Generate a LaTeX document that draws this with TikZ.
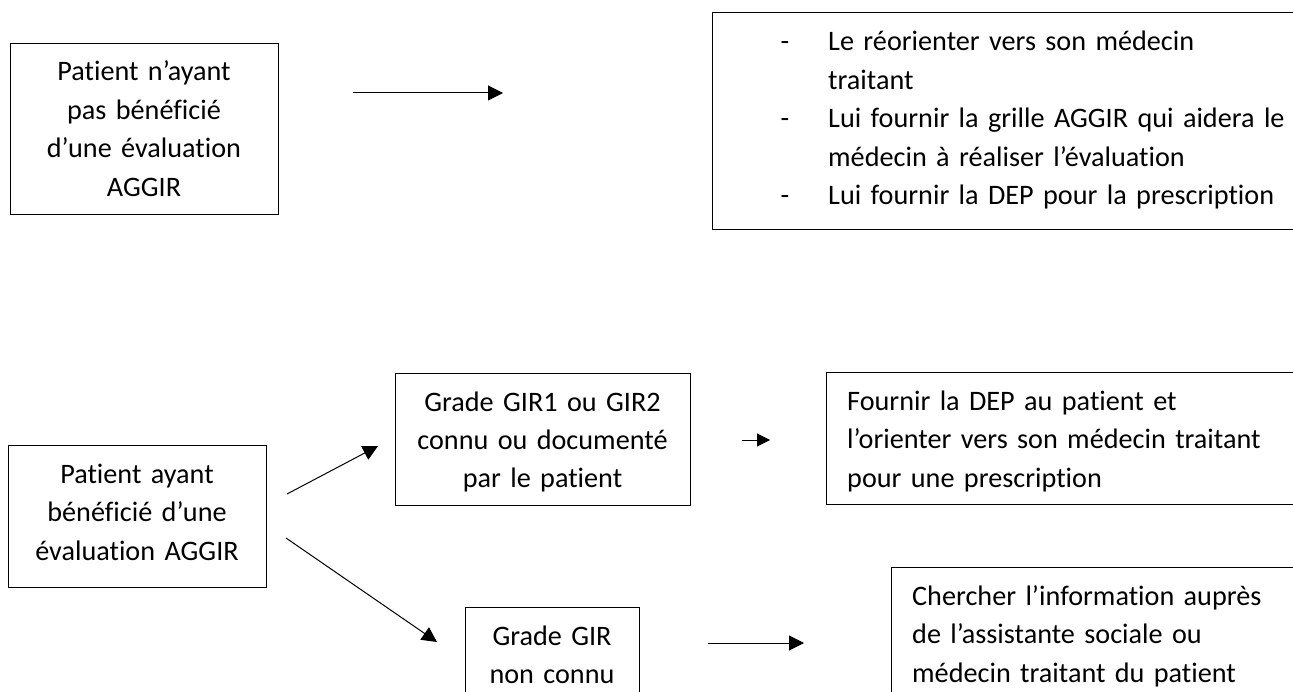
\documentclass[tikz,border=0pt]{standalone}
\usepackage{fontspec}
\setmainfont{Carlito}[Ligatures={NoCommon}]
\usetikzlibrary{arrows.meta}
\newcommand{\dashitem}{\leavevmode\llap{-\hspace{39pt}}}
\newcommand{\boxfont}{\fontsize{28.2}{38.5}\selectfont}
\begin{document}
\begin{tikzpicture}[x=1pt,y=-1pt,
  box/.style={draw=black, line width=1.1pt, anchor=north west, inner sep=0pt},
  txt/.style={font=\boxfont, inner sep=0pt},
  ctxt/.style={txt, align=center, anchor=base},
  ltxt/.style={txt, align=left, anchor=base west},
  arr/.style={line width=1pt, -{Triangle[length=15pt,width=15pt]}}]
\useasboundingbox (0,0) rectangle (1293,692);
\clip (0,0) rectangle (1293,692);
\fill[white] (0,0) rectangle (1293,692);

% boxes
\node[box, minimum width=268pt, minimum height=171pt] (boxA) at (10,43) {};
\node[box, minimum width=600pt, minimum height=217pt] (boxB) at (712,12) {};
\node[box, minimum width=258pt, minimum height=142pt] (boxC) at (8,445) {};
\node[box, minimum width=295pt, minimum height=132pt] (boxD) at (395,373) {};
\node[box, minimum width=174pt, minimum height=110pt] (boxE) at (465,607) {};
\node[box, minimum width=490pt, minimum height=132pt] (boxF) at (826,372) {};
\node[box, minimum width=430pt, minimum height=140pt] (boxG) at (891,567) {};

% texts
\node[ctxt, text width=260pt] (txtA) at (144,81) {Patient n’ayant\\pas bénéficié\\d’une évaluation\\AGGIR};
\node[ltxt, text width=500pt] (txtB) at (828,51) {\dashitem Le réorienter vers son médecin\\traitant\\\dashitem Lui fournir la grille AGGIR qui aidera le\\médecin à réaliser l’évaluation\\\dashitem Lui fournir la DEP pour la prescription};
\node[ctxt, text width=250pt] (txtC) at (137,483) {Patient ayant\\bénéficié d’une\\évaluation AGGIR};
\node[ctxt, text width=290pt] (txtD) at (542.5,411) {Grade GIR1 ou GIR2\\connu ou documenté\\par le patient};
\node[ctxt, text width=170pt] (txtE) at (552,645) {Grade GIR\\non connu};
\node[ltxt, text width=460pt] (txtF) at (847,410) {Fournir la DEP au patient et\\l’orienter vers son médecin traitant\\pour une prescription};
\node[ltxt, text width=400pt] (txtG) at (912,605) {Chercher l’information auprès\\de l’assistante sociale ou\\médecin traitant du patient};

% arrow end points
\coordinate (a1s) at (353,93);  \coordinate (a1e) at (503,93);
\coordinate (a2s) at (287,494); \coordinate (a2e) at (378,446);
\coordinate (a3s) at (286,538); \coordinate (a3e) at (437,642);
\coordinate (a4s) at (742,440); \coordinate (a4e) at (770,440);
\coordinate (a5s) at (708,643); \coordinate (a5e) at (804,643);

\draw[arr] (a1s) -- (a1e);
\draw[arr] (a2s) -- (a2e);
\draw[arr] (a3s) -- (a3e);
\draw[arr, -{Triangle[length=13pt,width=13pt]}] (a4s) -- (a4e);
\draw[arr] (a5s) -- (a5e);
\end{tikzpicture}
\end{document}
